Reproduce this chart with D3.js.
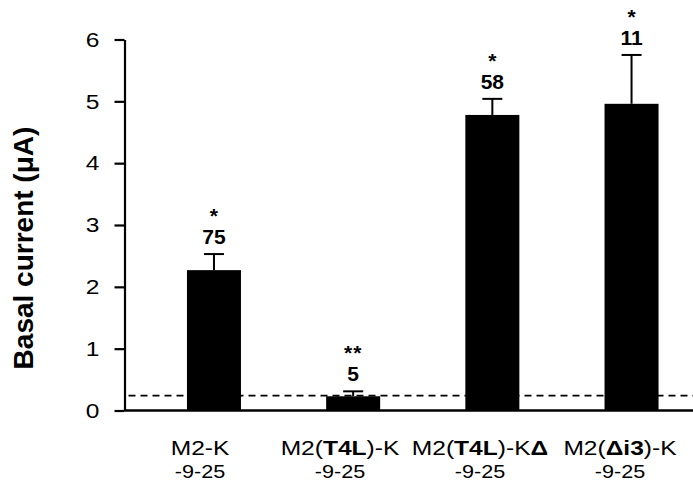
<!DOCTYPE html>
<html>
<head>
<meta charset="utf-8">
<script src="https://cdn.jsdelivr.net/npm/d3@7"></script>
<style>
  html, body { margin: 0; padding: 0; background: #fff; }
  svg { display: block; font-family: "Liberation Sans", Arial, Helvetica, sans-serif; }
</style>
</head>
<body>
<svg id="chart" width="693" height="481"></svg>
<script>
// Constructs and their measured basal currents
const categories = ["M2-K", "M2(T4L)-K", "M2(T4L)-KΔ", "M2(Δi3)-K"];
const means = [2.27, 0.23, 4.78, 4.96];
const sems = [0.26, 0.08, 0.26, 0.79];
const nCells = ["75", "5", "58", "11"];
const stars = ["*", "**", "*", "*"];
const subLabel = "-9-25";
// Label pieces: [text, bold?]
const labelParts = [
  [["M2-K", false]],
  [["M2(", false], ["T4L", true], [")-K", false]],
  [["M2(", false], ["T4L", true], [")-K", false], ["Δ", true]],
  [["M2(", false], ["Δi3", true], [")-K", false]]
];
const yTicks = [0, 1, 2, 3, 4, 5, 6];
const backgroundLevel = 0.24;

const svg = d3.select("#chart");
const W = 693;
const axisX = 124.5;
const wide = 1.17; // horizontal stretch of the axis lettering

const y = d3.scaleLinear().domain([0, 6]).range([410.5, 39.5]);
const x = d3.scaleBand()
  .domain(categories)
  .range([145.2, 700.3])
  .paddingInner(0.612)
  .paddingOuter(0.3);
// Category captions
const xLab = d3.scalePoint().domain(categories).range([200, 620]);

// Background (dashed) level
svg.append("line")
  .attr("x1", axisX + 4).attr("x2", W)
  .attr("y1", y(backgroundLevel)).attr("y2", y(backgroundLevel))
  .attr("stroke", "#000").attr("stroke-width", 1.8)
  .attr("stroke-dasharray", "7,5");

// Bars
const g = svg.append("g");
g.selectAll("rect.bar").data(categories).join("rect")
  .attr("class", "bar")
  .attr("x", d => x(d))
  .attr("width", x.bandwidth())
  .attr("y", (d, i) => y(means[i]))
  .attr("height", (d, i) => y(0) - y(means[i]))
  .attr("fill", "#000");

// Error bars (upper only), cell counts and significance marks
categories.forEach((c, i) => {
  const cx = x(c) + x.bandwidth() / 2;
  const top = y(means[i] + sems[i]);
  g.append("line").attr("x1", cx).attr("x2", cx)
    .attr("y1", y(means[i])).attr("y2", top)
    .attr("stroke", "#000").attr("stroke-width", 2);
  g.append("line").attr("x1", cx - 10).attr("x2", cx + 10)
    .attr("y1", top).attr("y2", top)
    .attr("stroke", "#000").attr("stroke-width", 2);
  const base = top - 10;
  g.append("text").attr("x", cx).attr("y", base)
    .attr("text-anchor", "middle")
    .attr("font-weight", "bold").attr("font-size", 21)
    .text(nCells[i]);
  g.append("text").attr("x", cx).attr("y", base - 21)
    .attr("text-anchor", "middle")
    .attr("font-weight", "bold").attr("font-size", 21)
    .attr("letter-spacing", i === 1 ? 1 : 0)
    .text(stars[i]);
});

// Baseline across the plot
svg.append("line")
  .attr("x1", axisX).attr("x2", W)
  .attr("y1", y(0)).attr("y2", y(0))
  .attr("stroke", "#000").attr("stroke-width", 2.4);

// Y axis
const yAxis = d3.axisLeft(y).tickValues(yTicks).tickFormat(d3.format("d"))
  .tickSize(10).tickSizeOuter(0).tickPadding(15);
const ya = svg.append("g").attr("transform", `translate(${axisX},0)`).call(yAxis);
ya.select(".domain").attr("stroke-width", 2.2);
ya.selectAll(".tick line").attr("stroke-width", 2.2);
ya.selectAll(".tick text")
  .attr("font-size", 21)
  .attr("font-family", "Liberation Sans, Arial, sans-serif")
  .attr("x", -25 / wide)
  .attr("transform", `scale(${wide},1)`);

// Y axis title
svg.append("text")
  .attr("transform", "translate(33,248) rotate(-90)")
  .attr("text-anchor", "middle")
  .attr("font-weight", "bold").attr("font-size", 28)
  .text("Basal current (μA)");

// Category captions (two lines)
categories.forEach((c, i) => {
  const t = svg.append("text")
    .attr("transform", `translate(${xLab(c)},455) scale(${wide},1)`)
    .attr("text-anchor", "middle")
    .attr("font-size", 21);
  labelParts[i].forEach(([s, b]) => {
    t.append("tspan").attr("font-weight", b ? "bold" : "normal").text(s);
  });
  svg.append("text")
    .attr("transform", `translate(${xLab(c)},478) scale(1.2,1)`)
    .attr("text-anchor", "middle")
    .attr("font-size", 18)
    .text(subLabel);
});
</script>
</body>
</html>
